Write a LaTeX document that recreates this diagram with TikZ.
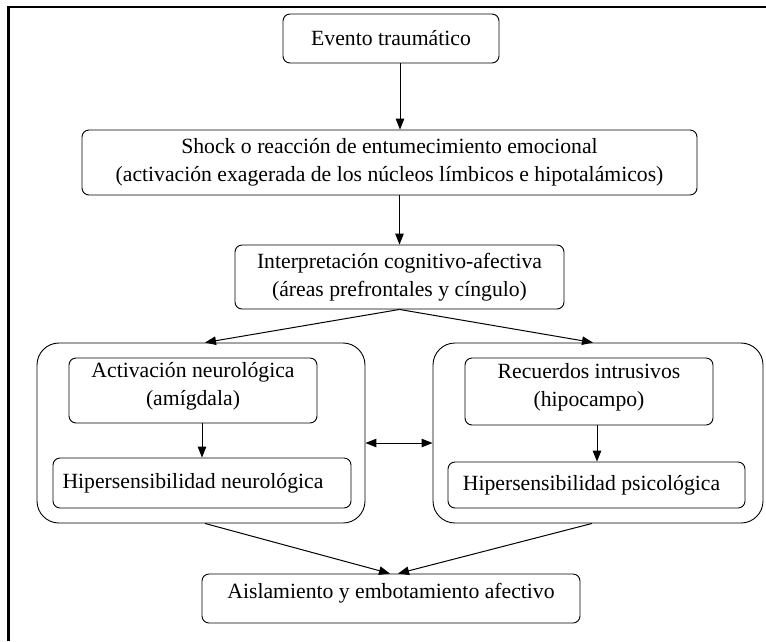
\documentclass[tikz,border=0pt]{standalone}
\usepackage{fontspec}
\setmainfont{Liberation Serif}
\usetikzlibrary{arrows.meta}
\begin{document}
\begin{tikzpicture}[x=1pt,y=-1pt,
  box/.style={draw, line width=0.9pt, rounded corners=7pt, inner sep=0pt, align=center,
    font=\fontsize{21.7}{28}\selectfont},
  bigbox/.style={draw, line width=0.9pt, rounded corners=22pt, inner sep=0pt},
  arr/.style={line width=1pt, -{Triangle[length=11pt,width=8.5pt]}},
  darr/.style={line width=1pt, {Triangle[length=11pt,width=8.5pt]}-{Triangle[length=11pt,width=8.5pt]}}]
\useasboundingbox (0,0) rectangle (766,641);
% frame
\draw[line width=2.6pt] (8.5,641) -- (8.5,7) -- (766,7);
% boxes
\node[box, minimum width=216pt, minimum height=49pt] (evento) at (391,38.5) {Evento traumático};
\node[box, minimum width=615pt, minimum height=65pt, yshift=-3pt] (shock) at (389.5,159.5)
  {Shock o reacción de entumecimiento emocional\\(activación exagerada de los núcleos límbicos e hipotalámicos)};
\node[box, minimum width=329pt, minimum height=64pt] (interp) at (399.5,277)
  {Interpretación cognitivo-afectiva\\(áreas prefrontales y cíngulo)};
\node[bigbox, minimum width=328pt, minimum height=180pt] (outL) at (201,433) {};
\node[bigbox, minimum width=330pt, minimum height=180pt] (outR) at (598,433) {};
\node[box, minimum width=248pt, minimum height=65pt, text depth=13pt] (actL) at (193,390.5)
  {Activación neurológica\\(amígdala)};
\node[box, minimum width=298pt, minimum height=50pt] (hipL) at (202,483)
  {Hipersensibilidad neurológica\hspace*{18pt}};
\node[box, minimum width=248pt, minimum height=67pt, text depth=13pt] (recR) at (589,391.5)
  {Recuerdos intrusivos\\(hipocampo)};
\node[box, minimum width=297pt, minimum height=46pt] (hipR) at (596.5,485)
  {Hipersensibilidad psicológica\hspace*{10pt}};
\node[box, minimum width=378pt, minimum height=49pt, text depth=15pt] (aisl) at (391,598.5)
  {Aislamiento y embotamiento afectivo};
% connectors
\draw[arr] ([xshift=9pt]evento.south) -- ([xshift=9pt]evento.south |- shock.north);
\draw[arr] (interp.north |- shock.south) -- (interp.north);
\draw[arr] (interp.south) -- ([xshift=4pt]outL.north);
\draw[arr] (interp.south) -- ([xshift=-5pt]outR.north);
\draw[arr] ([xshift=9pt]actL.south) -- ([xshift=9pt]actL.south |- hipL.north);
\draw[arr] ([xshift=8pt]recR.south) -- ([xshift=8pt]recR.south |- hipR.north);
\draw[darr] ([yshift=-10pt]outL.east) -- ([yshift=-10pt]outR.west);
\draw[arr] ([xshift=4pt]outL.south) -- ([xshift=-1pt]aisl.north);
\draw[arr] ([xshift=-6pt]outR.south) -- ([xshift=7pt]aisl.north);
\end{tikzpicture}
\end{document}
